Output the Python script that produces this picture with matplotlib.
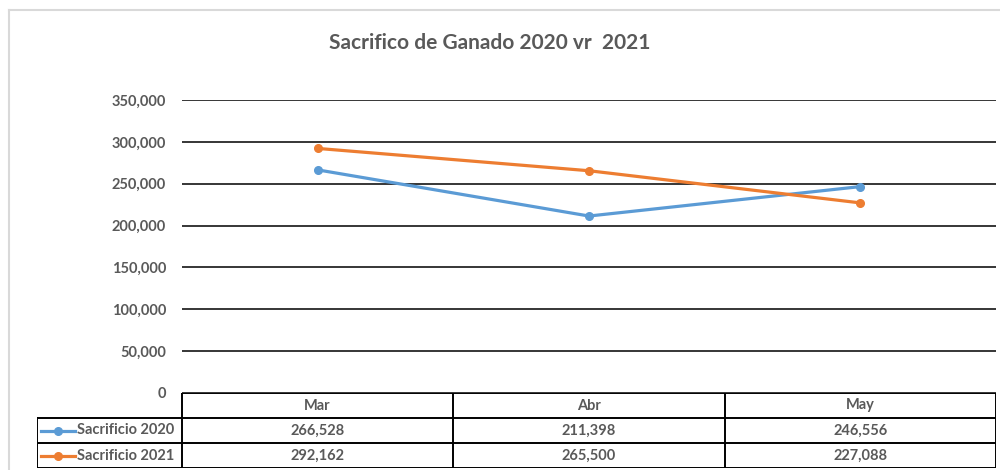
# Sacrificio de ganado 2020 vs 2021 - Excel style line chart with data table

import matplotlib.pyplot as plt
from matplotlib.lines import Line2D

plt.rcParams['font.family'] = ['Lato', 'DejaVu Sans']

# data
months = ['Mar', 'Abr', 'May']
sac_2020 = [266528, 211398, 246556]
sac_2021 = [292162, 265500, 227088]
series_names = ['Sacrificio 2020', 'Sacrificio 2021']
yticks = [0, 50000, 100000, 150000, 200000, 250000, 300000, 350000]

blue = '#5B9BD5'
orange = '#ED7D31'
txt = '#595959'
fs = 10.5

W, H = 1000, 470
fig = plt.figure(figsize=(W / 100, H / 100), dpi=100)


def fx(px):
    return px / W


def fy(py):
    return 1 - py / H


# outer chart frame (only top and left visible)
fig.add_artist(Line2D([fx(8.5), 1], [fy(9.5), fy(9.5)], color='#D9D9D9', lw=1.5))
fig.add_artist(Line2D([fx(8.5), fx(8.5)], [fy(9.5), 0], color='#D9D9D9', lw=1.5))

# plot area
x0, x1, ytop, ybot = 182, 996, 100, 393
ax = fig.add_axes([fx(x0), fy(ybot), fx(x1 - x0), (ybot - ytop) / H])
xs = range(len(months))
ax.plot(xs, sac_2020, color=blue, lw=2.3, marker='o', ms=5.5, zorder=3)
ax.plot(xs, sac_2021, color=orange, lw=2.3, marker='o', ms=5.5, zorder=3)
ax.set_xlim(-0.5, len(months) - 0.5)
ax.set_ylim(0, 350000)
ax.set_yticks(yticks)
ax.set_yticklabels([f'{v:,}' for v in yticks], fontsize=fs, fontweight='bold', color=txt)
ax.tick_params(axis='y', length=0, pad=11.5)
ax.set_xticks([])
ax.grid(axis='y', color='black', lw=1.1)
ax.set_axisbelow(True)
for s in ax.spines.values():
    s.set_visible(False)

fig.text(fx(490), fy(43), 'Sacrifico de Ganado 2020 vr  2021', ha='center', va='center',
         fontsize=15, fontweight='bold', color=txt)

# data table below the plot
tx0, ty0, ty1 = 37, 393, 468
tab = fig.add_axes([fx(tx0), fy(ty1), fx(x1 - tx0), (ty1 - ty0) / H])
tab.set_xlim(tx0, x1)
tab.set_ylim(ty1, ty0)
tab.axis('off')
row_h = 25
col_w = (x1 - x0) / len(months)
lk = dict(color='black', lw=1.4, solid_capstyle='projecting')
# header row
tab.plot([x0, x1], [ty0, ty0], **lk)
for r in range(1, 4):
    tab.plot([tx0, x1], [ty0 + r * row_h] * 2, **lk)
tab.plot([tx0, tx0], [ty0 + row_h, ty1], **lk)
for c in range(len(months) + 1):
    tab.plot([x0 + c * col_w] * 2, [ty0, ty1], **lk)
for c, m in enumerate(months):
    tab.text(x0 + (c + 0.5) * col_w, ty0 + row_h / 2, m, ha='center', va='center',
             fontsize=fs, fontweight='bold', color=txt)
for r, (name, vals, col) in enumerate(zip(series_names, [sac_2020, sac_2021], [blue, orange])):
    yc = ty0 + (r + 1.5) * row_h
    tab.plot([41, 75], [yc, yc], color=col, lw=2.3)
    tab.plot([58], [yc], marker='o', ms=5.5, color=col)
    tab.text(77, yc, name, ha='left', va='center', fontsize=fs, fontweight='bold', color=txt)
    for c, v in enumerate(vals):
        tab.text(x0 + (c + 0.5) * col_w, yc, f'{v:,}', ha='center', va='center',
                 fontsize=fs, fontweight='bold', color=txt)

fig.savefig('out.png', dpi=100)
